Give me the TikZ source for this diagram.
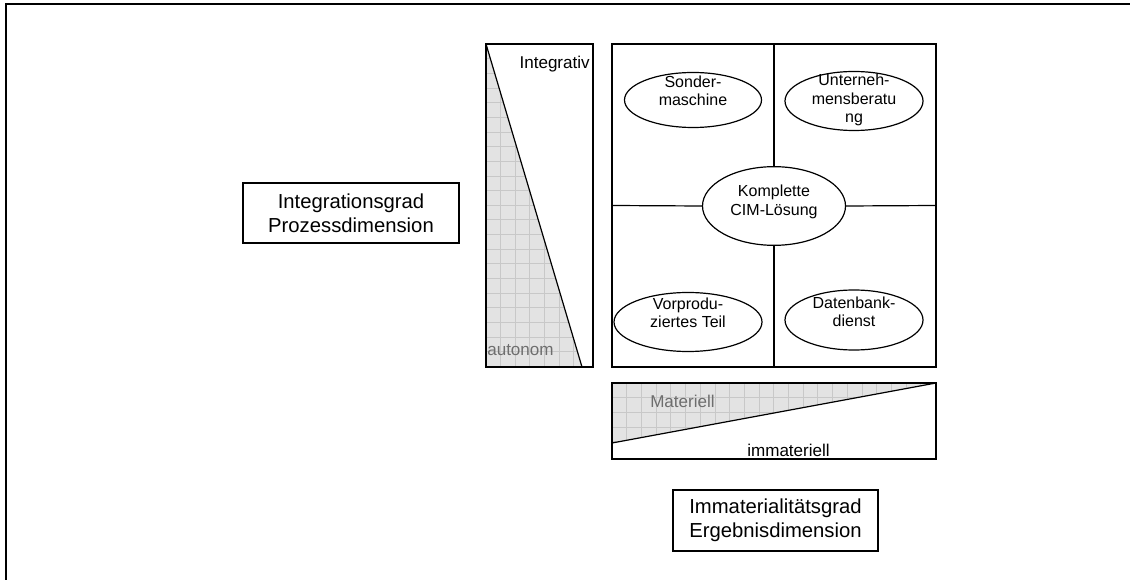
\documentclass[tikz,border=0pt]{standalone}
\usepackage{fontspec}
\setmainfont{Liberation Sans}
\usetikzlibrary{shapes.geometric}
\definecolor{hatchfill}{RGB}{227,227,227}
\definecolor{hatchline}{RGB}{200,200,200}
\definecolor{softtext}{RGB}{110,110,110}
\begin{document}
\begin{tikzpicture}[x=0.75pt,y=-0.75pt,
  frame/.style={line width=0.9pt},
  dimbox/.style={draw, line width=0.9pt, inner sep=0pt, align=center,
    font=\fontsize{15.2}{18}\selectfont},
  offer/.style={draw, ellipse, line width=0.9pt, inner sep=0pt},
  offertext/.style={align=center, inner sep=0pt, font=\fontsize{12}{13.8}\selectfont},
  scalelbl/.style={inner sep=0pt, font=\fontsize{12.8}{15}\selectfont},
  gridline/.style={hatchline, line width=0.5pt},
]
\useasboundingbox (0,0) rectangle (1130,580);
% outer frame
\draw[line width=1.5pt] (6,580) -- (6,4) -- (1130,4);

% vertical scale: integrative vs. autonomous
\fill[hatchfill] (486,44) -- (486,367) -- (582,367) -- cycle;
\begin{scope}
  \clip (486,44) -- (486,367) -- (582,367) -- cycle;
  \foreach \i in {1,...,7} \draw[gridline] ({486+14.6*\i},44) -- ++(0,330);
  \foreach \i in {1,...,22} \draw[gridline] (486,{44+14.65*\i}) -- ++(110,0);
\end{scope}
\draw[frame] (486,44) rectangle (593,367);
\draw[frame] (486,44) -- (582,367);
\node[scalelbl, anchor=east] (integ) at (590,64.5) {Integrativ};
\node[scalelbl, anchor=base west, text=softtext] (auton) at (487,356) {autonom};

% horizontal scale: material vs. immaterial
\fill[hatchfill] (612,383) -- (936,383) -- (612,443) -- cycle;
\begin{scope}
  \clip (612,383) -- (936,383) -- (612,443) -- cycle;
  \foreach \i in {1,...,22} \draw[gridline] ({612+14.7*\i},383) -- ++(0,80);
  \foreach \i in {1,...,4} \draw[gridline] (612,{383+14.7*\i}) -- ++(330,0);
\end{scope}
\draw[frame] (612,383) rectangle (936,459);
\draw[frame] (612,443) -- (936,383);
\node[scalelbl, anchor=base west, text=softtext] (mater) at (650,407) {Materiell};
\node[scalelbl, anchor=base west] (immat) at (747,456) {immateriell};

% portfolio square
\node[draw, frame, minimum width=243pt, minimum height=242.25pt, inner sep=0pt] (sq) at (774,205.5) {};

\node[offer, minimum width=102.75pt, minimum height=41.25pt] (sm) at (693,100) {};
\node[offertext] (smt) at (693,91) {Sonder-\\maschine};

\node[offer, minimum width=103.5pt, minimum height=44.25pt] (ub) at (854,101) {};
\node[offertext] (ubt) at (854,100) {Unterneh-\\mensberatu\\ng};

\node[offer, minimum width=107.25pt, minimum height=59pt] (cim) at (774,206) {};
\node[offertext] (cimt) at (774,202) {Komplette\\CIM-Lösung};

\node[offer, minimum width=111pt, minimum height=44.25pt] (vt) at (688,322) {};
\node[offertext] (vtt) at (688,313) {Vorprodu-\\ziertes Teil};

\node[offer, minimum width=103.5pt, minimum height=45pt] (db) at (854,320) {};
\node[offertext] (dbt) at (854,312) {Datenbank-\\dienst};

\draw[frame] (sq.north) -- (cim.north);
\draw[frame] (cim.south) -- (sq.south);
\draw[frame] (sq.west) -- (cim.west);
\draw[frame] (cim.east) -- (sq.east);

% dimension captions
\node[dimbox, minimum width=162pt, minimum height=45pt] (proc) at (351,213)
  {Integrationsgrad\\Prozessdimension};
\node[dimbox, minimum width=153.75pt, minimum height=45.75pt] (res) at (775.5,520.5)
  {Immaterialitätsgrad\\Ergebnisdimension};
\end{tikzpicture}
\end{document}
